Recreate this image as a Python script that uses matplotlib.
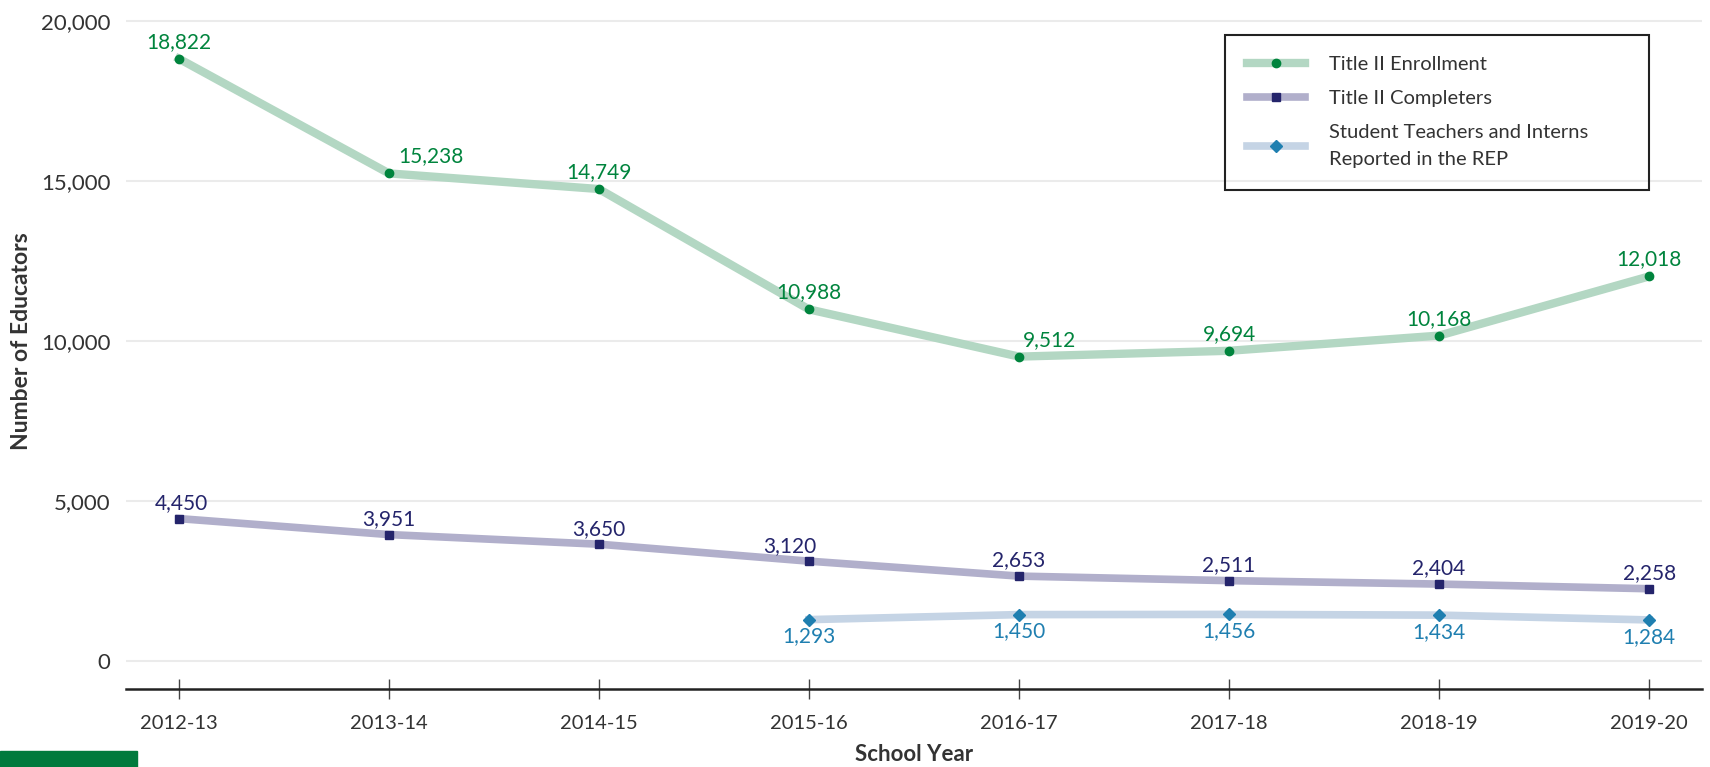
import numpy as np
import matplotlib.pyplot as plt
import matplotlib.patches as mpatches

plt.rcParams['font.family'] = ['Lato', 'DejaVu Sans']

years = ['2012-13', '2013-14', '2014-15', '2015-16', '2016-17', '2017-18', '2018-19', '2019-20']
enrollment = [18822, 15238, 14749, 10988, 9512, 9694, 10168, 12018]
completers = [4450, 3951, 3650, 3120, 2653, 2511, 2404, 2258]
student_teachers = [np.nan, np.nan, np.nan, 1293, 1450, 1456, 1434, 1284]

x = np.arange(len(years))

W, H = 1710, 767
fig = plt.figure(figsize=(W / 100, H / 100), dpi=100)
ax = fig.add_axes([126 / W, 78 / H, 1576 / W, 689 / H])

ax.plot(x, enrollment, color='#b3d7c3', linewidth=6, marker='o', markersize=6,
        markerfacecolor='#00843d', markeredgecolor='#00843d', label='Title II Enrollment', zorder=3)
ax.plot(x, completers, color='#b1afcb', linewidth=5.5, marker='s', markersize=6,
        markerfacecolor='#24246b', markeredgecolor='#24246b', label='Title II Completers', zorder=3)
ax.plot(x, student_teachers, color='#c5d4e5', linewidth=5.5, marker='D', markersize=6,
        markerfacecolor='#1f7fb0', markeredgecolor='#1f7fb0',
        label='Student Teachers and Interns\nReported in the REP', zorder=3)

# value labels
green_dx = [0, 30, 0, 0, 22, 0, 0, 0]
for i, v in enumerate(enrollment):
    ax.annotate(f'{v:,}', (x[i], v), xytext=(green_dx[i], 5), textcoords='offset points',
                ha='center', va='bottom', fontsize=15, color='#00843d')
navy_dx = [2, 0, 0, -14, 0, 0, 0, 0]
for i, v in enumerate(completers):
    ax.annotate(f'{v:,}', (x[i], v), xytext=(navy_dx[i], 4), textcoords='offset points',
                ha='center', va='bottom', fontsize=15, color='#24246b')
for i, v in enumerate(student_teachers):
    if not np.isnan(v):
        ax.annotate(f'{v:,.0f}', (x[i], v), xytext=(0, -5), textcoords='offset points',
                    ha='center', va='top', fontsize=15, color='#1f7fb0')

ax.set_xlim(-0.252, 7.252)
ax.set_ylim(-875, 20656)
ax.set_yticks([0, 5000, 10000, 15000, 20000])
ax.set_yticklabels(['0', '5,000', '10,000', '15,000', '20,000'])
ax.set_xticks(x)
ax.set_xticklabels(years)

ax.grid(axis='y', color='#ebebeb', linewidth=1.5)
ax.set_axisbelow(True)
for s in ['top', 'right', 'left']:
    ax.spines[s].set_visible(False)
ax.spines['bottom'].set_linewidth(1.8)
ax.spines['bottom'].set_color('#222222')

ax.tick_params(axis='y', length=0, pad=11, labelsize=16, labelcolor='#333333')
ax.tick_params(axis='x', direction='inout', length=15, width=1, color='#444444',
               pad=11, labelsize=14.5, labelcolor='#333333')

ax.set_xlabel('School Year', fontsize=16, fontweight='bold', color='#333333', labelpad=9)
fig.text(22 / W, 0.555, 'Number of Educators', rotation=90, fontsize=16.5, fontweight='bold',
         color='#333333', ha='center', va='center')

# legend (frame drawn separately to match the padding)
leg = fig.legend(*ax.get_legend_handles_labels(), loc='upper left',
                 bbox_to_anchor=(1247 / W, (H - 56) / H), bbox_transform=fig.transFigure,
                 fontsize=14.5, frameon=False, handlelength=2.9, handletextpad=1.15,
                 borderpad=0, labelspacing=0.84, borderaxespad=0)
for t in leg.get_texts():
    t.set_color('#333333')
    t.set_linespacing(1.72)
fig.patches.append(mpatches.Rectangle((1225 / W, (H - 190) / H), 424 / W, 155 / H,
                                      transform=fig.transFigure, fill=False,
                                      edgecolor='#222222', linewidth=1.5, zorder=4))

fig.patches.append(mpatches.Rectangle((0, 0), 137 / W, 16 / H, transform=fig.transFigure,
                                      color='#007a3d', zorder=5))

fig.savefig('out.png', dpi=100)
